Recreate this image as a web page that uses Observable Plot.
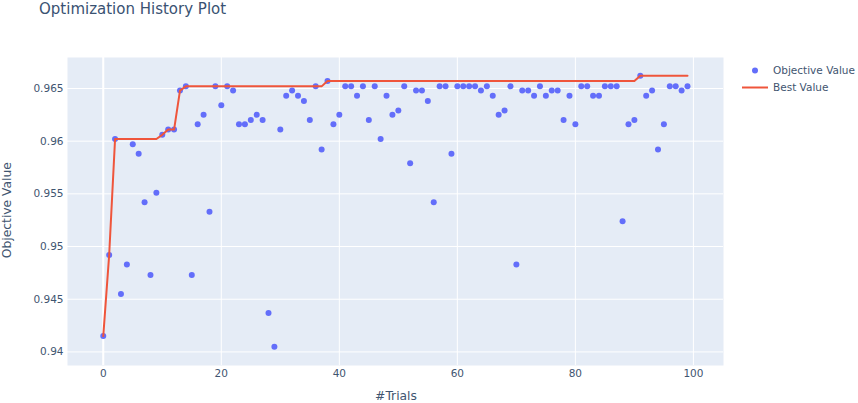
<!DOCTYPE html>
<html><head><meta charset="utf-8">
<script src="https://cdn.jsdelivr.net/npm/d3@7"></script>
<script src="https://cdn.jsdelivr.net/npm/@observablehq/plot@0.6"></script>
<style>
body{margin:0;background:#fff;font-family:"DejaVu Sans",Verdana,sans-serif;}
#wrap{position:relative;width:858px;height:403px;overflow:hidden;}
#wrap svg{display:block;}
.t{position:absolute;color:#3f5570;white-space:nowrap;line-height:1;}
#title{left:39px;top:2px;font-size:15px;color:#3a5272;}
#ytitle{left:-43px;top:204px;font-size:12.3px;transform:rotate(-90deg);width:100px;text-align:center;}
#xtitle{left:356px;top:390px;font-size:12.3px;width:80px;text-align:center;}
.leg{position:absolute;font-size:10.5px;color:#3f5570;line-height:1;white-space:nowrap;}
</style></head><body>
<div id="wrap">
<div class="t" id="title">Optimization History Plot</div>
<div class="t" id="ytitle">Objective Value</div>
<div class="t" id="xtitle">#Trials</div>
<svg class="leg" style="left:740px;top:62px" width="30" height="32">
  <circle cx="15" cy="8.5" r="3" fill="#636efa"></circle>
  <line x1="2" x2="28" y1="25.5" y2="25.5" stroke="#EF553B" stroke-width="2"></line>
</svg>
<div class="leg" style="left:773px;top:64.5px">Objective Value</div>
<div class="leg" style="left:773px;top:81.5px">Best Value</div>
</div>
<script>
const objectiveValues = [
0.9415,0.9492,0.9602,0.9455,0.9483,0.9597,0.9588,0.9542,0.9473,0.9551,
0.9606,0.9611,0.9611,0.9648,0.9652,0.9473,0.9616,0.9625,0.9533,0.9652,
0.9634,0.9652,0.9648,0.9616,0.9616,0.9620,0.9625,0.9620,0.9437,0.9405,
0.9611,0.9643,0.9648,0.9643,0.9638,0.9620,0.9652,0.9592,0.9657,0.9616,
0.9625,0.9652,0.9652,0.9643,0.9652,0.9620,0.9652,0.9602,0.9643,0.9625,
0.9629,0.9652,0.9579,0.9648,0.9648,0.9638,0.9542,0.9652,0.9652,0.9588,
0.9652,0.9652,0.9652,0.9652,0.9648,0.9652,0.9643,0.9625,0.9629,0.9652,
0.9483,0.9648,0.9648,0.9643,0.9652,0.9643,0.9648,0.9648,0.9620,0.9643,
0.9616,0.9652,0.9652,0.9643,0.9643,0.9652,0.9652,0.9652,0.9524,0.9616,
0.9620,0.9662,0.9643,0.9648,0.9592,0.9616,0.9652,0.9652,0.9648,0.9652];
const bestValues = [
0.9415,0.9492,0.9602,0.9602,0.9602,0.9602,0.9602,0.9602,0.9602,0.9602,
0.9606,0.9611,0.9611,0.9648,0.9652,0.9652,0.9652,0.9652,0.9652,0.9652,
0.9652,0.9652,0.9652,0.9652,0.9652,0.9652,0.9652,0.9652,0.9652,0.9652,
0.9652,0.9652,0.9652,0.9652,0.9652,0.9652,0.9652,0.9652,0.9657,0.9657,
0.9657,0.9657,0.9657,0.9657,0.9657,0.9657,0.9657,0.9657,0.9657,0.9657,
0.9657,0.9657,0.9657,0.9657,0.9657,0.9657,0.9657,0.9657,0.9657,0.9657,
0.9657,0.9657,0.9657,0.9657,0.9657,0.9657,0.9657,0.9657,0.9657,0.9657,
0.9657,0.9657,0.9657,0.9657,0.9657,0.9657,0.9657,0.9657,0.9657,0.9657,
0.9657,0.9657,0.9657,0.9657,0.9657,0.9657,0.9657,0.9657,0.9657,0.9657,
0.9657,0.9662,0.9662,0.9662,0.9662,0.9662,0.9662,0.9662,0.9662,0.9662];
const xTicks = [0, 20, 40, 60, 80, 100];
const xTickLabels = ["0", "20", "40", "60", "80", "100"];
const yTicks = [0.94, 0.945, 0.95, 0.955, 0.96, 0.965];
const yTickLabels = ["0.94", "0.945", "0.95", "0.955", "0.96", "0.965"];

const objData = objectiveValues.map((v, i) => ({trial: i, value: v}));
const bestData = bestValues.map((v, i) => ({trial: i, value: v}));

const chart = Plot.plot({
  width: 858, height: 403,
  marginLeft: 67, marginRight: 135, marginTop: 57, marginBottom: 38,
  style: {fontFamily: "'DejaVu Sans', Verdana, sans-serif", fontSize: "10.5px", color: "#3f5570", background: "transparent"},
  x: {domain: [-6.06, 105.1]},
  y: {domain: [0.93871, 0.96794]},
  marks: [
    Plot.frame({fill: "#E5ECF6", stroke: null}),
    Plot.gridX(xTicks, {stroke: "#fff", strokeOpacity: 1, strokeWidth: 1}),
    Plot.gridY(yTicks, {stroke: "#fff", strokeOpacity: 1, strokeWidth: 1}),
    Plot.ruleX([0], {stroke: "#fff", strokeWidth: 2}),
    Plot.axisX({ticks: xTicks, tickSize: 0, tickPadding: 4, tickFormat: (d, i) => xTickLabels[i], label: null, fill: "#3f5570"}),
    Plot.axisY({ticks: yTicks, tickSize: 0, tickPadding: 4, tickFormat: (d, i) => yTickLabels[i], label: null, fill: "#3f5570"}),
    Plot.dot(objData, {x: "trial", y: "value", r: 3, fill: "#636efa", stroke: null}),
    Plot.line(bestData, {x: "trial", y: "value", stroke: "#EF553B", strokeWidth: 2})
  ]
});
chart.style.position = "absolute";
chart.style.left = "0px";
chart.style.top = "0px";
document.getElementById("wrap").prepend(chart);
</script>
</body></html>
